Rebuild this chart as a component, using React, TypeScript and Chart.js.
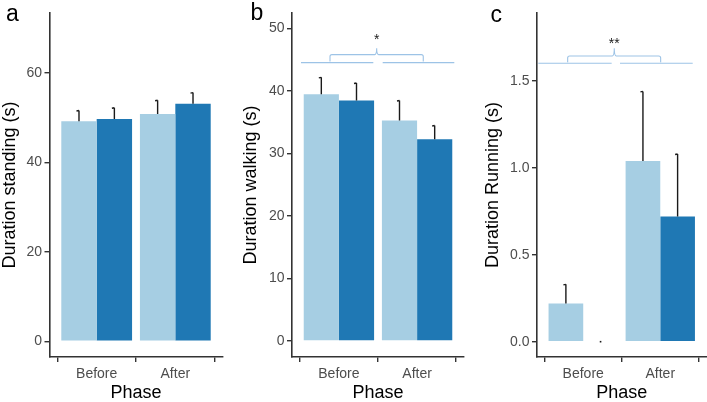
import { useEffect, useRef } from 'react';
import { Chart, registerables } from 'chart.js';

Chart.register(...registerables);

// ---------- data ----------
const phases = ['Before', 'After'];
const phasePositions = [1, 2];
const seriesNames = ['Group A', 'Group B'];
const seriesColors = ['#a6cee3', '#1f78b4'];

const standingLight = [49.2, 50.8];
const standingDark = [49.7, 53.1];
const standingLightSE = [2.4, 3.1];
const standingDarkSE = [2.5, 2.5];
const standingTicks = [0, 20, 40, 60];
const standingTickLabels = ['0', '20', '40', '60'];

const walkingLight = [39.5, 35.3];
const walkingDark = [38.5, 32.3];
const walkingLightSE = [2.7, 3.2];
const walkingDarkSE = [2.8, 2.2];
const walkingTicks = [0, 10, 20, 30, 40, 50];
const walkingTickLabels = ['0', '10', '20', '30', '40', '50'];

const runningLight = [0.22, 1.04];
const runningDark = [0, 0.72];
const runningLightSE = [0.11, 0.4];
const runningDarkSE = [0, 0.36];
const runningTicks = [0, 0.5, 1.0, 1.5];
const runningTickLabels = ['0.0', '0.5', '1.0', '1.5'];

type Bracket = {
  lineY: number; braceY: number; peakY: number;
  lineX: number[]; gapX: number[]; braceX: number[]; peakX: number;
  label: string; labelY: number;
};

const walkingBracket: Bracket = {
  lineY: 44.56, braceY: 45.84, peakY: 46.86,
  lineX: [0.515, 2.476], gapX: [1.44, 1.56], braceX: [0.886, 2.079], peakX: 1.483,
  label: '*', labelY: 47.55,
};
const runningBracket: Bracket = {
  lineY: 1.602, braceY: 1.644, peakY: 1.688,
  lineX: [0.417, 2.421], gapX: [1.369, 1.477], braceX: [0.798, 2.005], peakX: 1.403,
  label: '**', labelY: 1.69,
};

// ---------- panel setup ----------
type Panel = {
  letter: string; letterX: number; letterY: number;
  yTitle: string;
  light: number[]; dark: number[]; lightSE: number[]; darkSE: number[];
  ticks: number[]; tickLabels: string[]; yMin: number; yMax: number;
  bracket?: Bracket;
  left: number; width: number; yAxisWidth: number; padRight: number; yTitlePad: number;
};

const panels: Panel[] = [
  {
    letter: 'a', letterX: 6, letterY: 21, yTitle: 'Duration standing (s)',
    light: standingLight, dark: standingDark, lightSE: standingLightSE, darkSE: standingDarkSE,
    ticks: standingTicks, tickLabels: standingTickLabels, yMin: -3.53, yMax: 73.4,
    left: 0, width: 230, yAxisWidth: 49.5, padRight: 7.5, yTitlePad: 1.5,
  },
  {
    letter: 'b', letterX: 20.5, letterY: 20, yTitle: 'Duration walking (s)',
    light: walkingLight, dark: walkingDark, lightSE: walkingLightSE, darkSE: walkingDarkSE,
    ticks: walkingTicks, tickLabels: walkingTickLabels, yMin: -2.56, yMax: 52.5,
    bracket: walkingBracket,
    left: 230, width: 240, yAxisWidth: 62, padRight: 6, yTitlePad: 12.3,
  },
  {
    letter: 'c', letterX: 20.5, letterY: 22, yTitle: 'Duration Running (s)',
    light: runningLight, dark: runningDark, lightSE: runningLightSE, darkSE: runningDarkSE,
    ticks: runningTicks, tickLabels: runningTickLabels, yMin: -0.088, yMax: 1.891,
    bracket: runningBracket,
    left: 470, width: 237, yAxisWidth: 67, padRight: 0.5, yTitlePad: 13.8,
  },
];

const FONT = '"Liberation Sans", Arial, sans-serif';

const extrasPlugin = {
  id: 'panelExtras',
  afterDatasetsDraw(chart: any, _args: any, opts: any) {
    const ctx = chart.ctx as CanvasRenderingContext2D;
    const xs = chart.scales.x;
    const ys = chart.scales.y;
    ctx.save();
    // error bars
    chart.data.datasets.forEach((ds: any, di: number) => {
      const meta = chart.getDatasetMeta(di);
      const se: number[] = opts.errors[di];
      meta.data.forEach((bar: any, i: number) => {
        const v = ds.data[i].y;
        const base = ys.getPixelForValue(v);
        const top = ys.getPixelForValue(v + se[i]);
        const bx = bar.x;
        ctx.strokeStyle = '#1a1a1a';
        ctx.fillStyle = '#1a1a1a';
        ctx.lineWidth = 1.4;
        if (se[i] === 0) {
          ctx.fillRect(bx - 0.8, base - 0.8, 1.6, 1.6);
        } else {
          ctx.beginPath();
          ctx.moveTo(bx, base);
          ctx.lineTo(bx, top);
          ctx.moveTo(bx - 2.5, top + 0.5);
          ctx.lineTo(bx, top);
          ctx.stroke();
        }
      });
    });
    // bracket
    const b: Bracket | undefined = opts.bracket;
    if (b) {
      const px = (u: number) => xs.getPixelForValue(u);
      const py = (v: number) => ys.getPixelForValue(v);
      const ly = py(b.lineY);
      const by = py(b.braceY);
      const pky = py(b.peakY);
      ctx.strokeStyle = '#9dc3e6';
      ctx.lineWidth = 1.1;
      ctx.beginPath();
      ctx.moveTo(px(b.lineX[0]), ly);
      ctx.lineTo(px(b.gapX[0]), ly);
      ctx.moveTo(px(b.gapX[1]), ly);
      ctx.lineTo(px(b.lineX[1]), ly);
      const l = px(b.braceX[0]);
      const r = px(b.braceX[1]);
      const pk = px(b.peakX);
      const rad = 2;
      ctx.moveTo(l, ly - 1);
      ctx.lineTo(l, by + rad);
      ctx.quadraticCurveTo(l, by, l + rad, by);
      ctx.lineTo(pk - rad, by);
      ctx.quadraticCurveTo(pk, by, pk, pky);
      ctx.quadraticCurveTo(pk, by, pk + rad, by);
      ctx.lineTo(r - rad, by);
      ctx.quadraticCurveTo(r, by, r, by + rad);
      ctx.lineTo(r, ly - 1);
      ctx.stroke();
      ctx.fillStyle = '#1a1a1a';
      ctx.font = `14px ${FONT}`;
      ctx.textAlign = 'center';
      ctx.textBaseline = 'alphabetic';
      ctx.fillText(b.label, pk, py(b.labelY));
    }
    ctx.restore();
  },
  afterDraw(chart: any, _args: any, opts: any) {
    const ctx = chart.ctx as CanvasRenderingContext2D;
    ctx.save();
    ctx.fillStyle = '#000';
    ctx.font = `23px ${FONT}`;
    ctx.textAlign = 'left';
    ctx.textBaseline = 'alphabetic';
    ctx.fillText(opts.letter, opts.letterX, opts.letterY);
    ctx.restore();
  },
};

function PanelChart({ p }: { p: Panel }) {
  const ref = useRef<HTMLCanvasElement>(null);
  useEffect(() => {
    if (!ref.current) return;
    const chart = new Chart(ref.current, {
      type: 'bar',
      data: {
        datasets: [
          {
            label: seriesNames[0],
            data: phasePositions.map((x, i) => ({ x, y: p.light[i] })),
            backgroundColor: seriesColors[0],
            borderWidth: 0,
            categoryPercentage: 0.9,
            barPercentage: 1,
          },
          {
            label: seriesNames[1],
            data: phasePositions.map((x, i) => ({ x, y: p.dark[i] })),
            backgroundColor: seriesColors[1],
            borderWidth: 0,
            categoryPercentage: 0.9,
            barPercentage: 1,
          },
        ] as any,
      },
      options: {
        responsive: false,
        animation: false,
        events: [],
        layout: { padding: { left: 0, right: p.padRight, top: 13, bottom: 0 } },
        plugins: {
          legend: { display: false },
          tooltip: { enabled: false },
          panelExtras: {
            errors: [p.lightSE, p.darkSE],
            bracket: p.bracket,
            letter: p.letter,
            letterX: p.letterX,
            letterY: p.letterY,
          },
        } as any,
        scales: {
          x: {
            type: 'linear',
            min: 0.4,
            max: 2.6,
            offset: false,
            afterBuildTicks: (s: any) => {
              s.ticks = phasePositions.map((v) => ({ value: v }));
            },
            afterFit: (s: any) => {
              s.height = 45;
            },
            ticks: {
              callback: (_v: any, i: number) => phases[i],
              font: { family: FONT, size: 14 },
              color: '#4d4d4d',
              padding: 3.5,
              maxRotation: 0,
              autoSkip: false,
            },
            grid: {
              display: true,
              drawOnChartArea: false,
              drawTicks: true,
              tickLength: 5,
              color: '#333333',
              lineWidth: 1.4,
            },
            border: { display: true, color: '#333333', width: 1.6 },
            title: {
              display: true,
              text: 'Phase',
              color: '#000',
              font: { family: FONT, size: 18, lineHeight: 1 },
              padding: 0,
            },
          } as any,
          y: {
            type: 'linear',
            min: p.yMin,
            max: p.yMax,
            afterBuildTicks: (s: any) => {
              s.ticks = p.ticks.map((v) => ({ value: v }));
            },
            afterFit: (s: any) => {
              s.width = p.yAxisWidth;
            },
            ticks: {
              callback: (_v: any, i: number) => p.tickLabels[i],
              font: { family: FONT, size: 14 },
              color: '#4d4d4d',
              padding: 2.5,
            },
            grid: {
              display: true,
              drawOnChartArea: false,
              drawTicks: true,
              tickLength: 5,
              color: '#333333',
              lineWidth: 1.4,
            },
            border: { display: true, color: '#333333', width: 1.6 },
            title: {
              display: true,
              text: p.yTitle,
              color: '#000',
              font: { family: FONT, size: 18, lineHeight: 1 },
              padding: { top: p.yTitlePad, bottom: 0 },
            },
          } as any,
        },
      },
      plugins: [extrasPlugin as any],
    });
    return () => chart.destroy();
  }, [p]);
  return (
    <canvas
      ref={ref}
      width={p.width}
      height={402}
      style={{ position: 'absolute', left: p.left, top: 0, width: p.width, height: 402 }}
    />
  );
}

export default function App() {
  return (
    <div
      style={{
        position: 'absolute',
        left: 0,
        top: 0,
        width: 707,
        height: 402,
        background: '#ffffff',
        overflow: 'hidden',
      }}
    >
      {panels.map((p) => (
        <PanelChart key={p.letter} p={p} />
      ))}
    </div>
  );
}
